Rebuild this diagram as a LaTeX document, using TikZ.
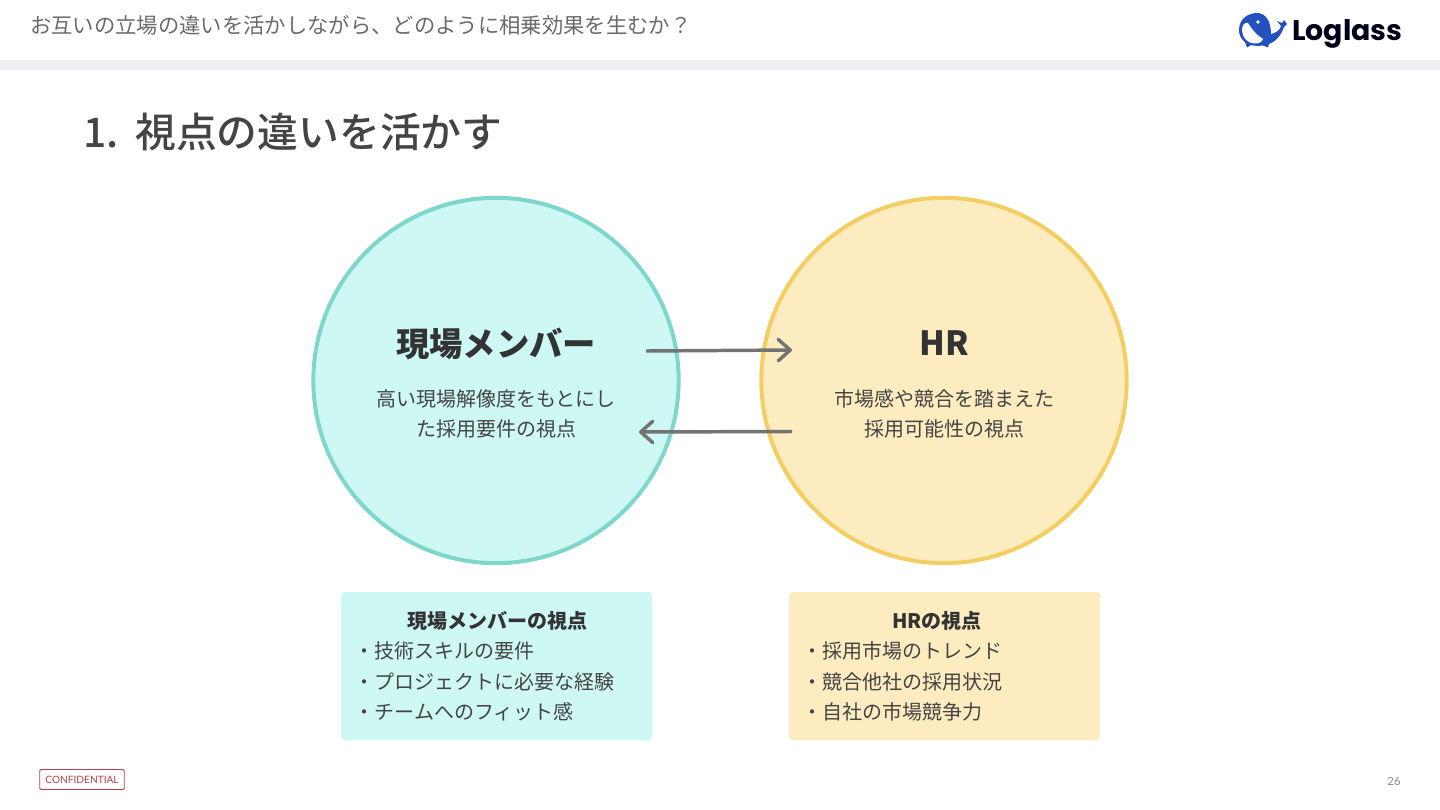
\documentclass[tikz,border=0pt]{standalone}
\usepackage{fontspec}
\usepackage{xcolor}
\usetikzlibrary{arrows.meta}
\setmainfont{Noto Sans CJK JP}
\newfontfamily\titlefont{Noto Sans CJK JP Medium}
\newfontfamily\logofont{Poppins}[BoldFont=Poppins Bold]
\newfontfamily\tagfont{Lato}
\definecolor{member}{HTML}{CDF8F4}
\definecolor{memberline}{HTML}{7FD7CC}
\definecolor{staff}{HTML}{FCECC0}
\definecolor{staffline}{HTML}{F5CE63}
\definecolor{band}{HTML}{F0F0F5}
\definecolor{whale}{HTML}{2450C0}
\definecolor{ink}{HTML}{333333}
\definecolor{soft}{HTML}{444444}
\definecolor{tagred}{HTML}{B5414F}
\newcommand{\fs}[1]{\fontsize{#1}{#1}\selectfont}

\begin{document}
\begin{tikzpicture}[x=0.75pt, y=-0.75pt,
  view/.style={circle, draw=#1line, fill=#1, line width=3pt, minimum size=274pt, inner sep=0pt},
  card/.style={fill=#1, rounded corners=3pt, minimum width=233.5pt, minimum height=111pt, inner sep=0pt},
  viewname/.style={font=\bfseries\fs{25}, text=ink, inner sep=0pt},
  viewtext/.style={font=\fs{15}\linespread{1}, text=soft, align=center, inner sep=0pt},
  cardname/.style={font=\bfseries\fs{15}, text=ink, inner sep=0pt},
  cardlist/.style={font=\fontsize{15}{22.9}\selectfont, text=soft, align=left, anchor=west, inner sep=0pt},
  link/.style={draw=black!55!white, line width=2.6pt, -{Straight Barb[round,length=9pt,width=16pt,line width=2.6pt]}}]
\useasboundingbox (0,0) rectangle (1440,810);
\fill[white] (0,0) rectangle (1440,810);
\fill[band] (0,60) rectangle (1440,70);
% header
\node[anchor=west, inner sep=0pt, text=black!58, font=\fs{16}] (head) at (30,25) {お互いの立場の違いを活かしながら、どのように相乗効果を生むか？};
\node[anchor=west, inner sep=0pt, text=soft, font=\titlefont\fs{30.6}] (title) at (83,132) {1.\hspace{12.5pt}視点の違いを活かす};
% logo
\fill[whale] (1239,30) .. controls (1239,19) and (1248,13) .. (1257,13) .. controls (1266,13) and (1271,22) .. (1271,34)
  .. controls (1276,33) and (1280,30) .. (1281,26) -- (1277,21) -- (1282,23) -- (1284,20) -- (1287,24) -- (1284,27)
  .. controls (1281,36) and (1275,42) .. (1269,44) -- (1268,47.5) -- (1263,45.5) .. controls (1258,46) and (1254,46) .. (1251,45) -- (1247,47.5) -- (1245,42)
  .. controls (1241,39) and (1239,35) .. (1239,30) -- cycle;
\fill[white] (1242,30) .. controls (1242,25) and (1245,22) .. (1248,23) .. controls (1252,30) and (1258,36) .. (1263,39)
  .. controls (1262,42) and (1258,44) .. (1254,43.5) .. controls (1247,43) and (1242,37) .. (1242,30) -- cycle;
\fill[white] (1258,22) circle (1.8);
\node[anchor=west, inner sep=0pt, text=black!90!blue, font=\logofont\bfseries\fs{21.3}] (logo) at (1292,33.5) {Loglass};
% circles
\node[view=member] (member) at (496,380.5) {};
\node[view=staff] (hr) at (944,380.5) {};
\node[viewname] (membername) at (496,343.5) {現場メンバー};
\node[viewname] (hrname) at (944,343.5) {HR};
\node[viewtext] (membertext) at (496,414) {高い現場解像度をもとにし\\[7.5pt]た採用要件の視点};
\node[viewtext] (hrtext) at (944,414) {市場感や競合を踏まえた\\[7.5pt]採用可能性の視点};
% arrows
\coordinate (a) at (646,351);
\coordinate (b) at (792,350);
\coordinate (c) at (792,431.5);
\coordinate (d) at (639,432);
\draw[link] (a) -- (b);
\draw[link] (c) -- (d);
% cards
\node[card=member] (membercard) at (496.5,666) {};
\node[card=staff] (hrcard) at (944.5,666) {};
\node[cardname] (membercardname) at (497,621) {現場メンバーの視点};
\node[cardname] (hrcardname) at (937,621) {HRの視点};
\node[cardlist] (memberlist) at (354.5,681.5) {・技術スキルの要件\\・プロジェクトに必要な経験\\・チームへのフィット感};
\node[cardlist] (hrlist) at (802,681.5) {・採用市場のトレンド\\・競合他社の採用状況\\・自社の市場競争力};
% footer
\node[draw=tagred, rounded corners=1pt, line width=0.6pt, text=tagred, font=\tagfont\fs{7.6}, minimum width=63.5pt, minimum height=15pt, inner sep=0pt] (tag) at (82,779.5) {CONFIDENTIAL};
\node[text=black!45, font=\tagfont\fs{8.5}, inner sep=0pt] (page) at (1394,781) {26};
\end{tikzpicture}
\end{document}
